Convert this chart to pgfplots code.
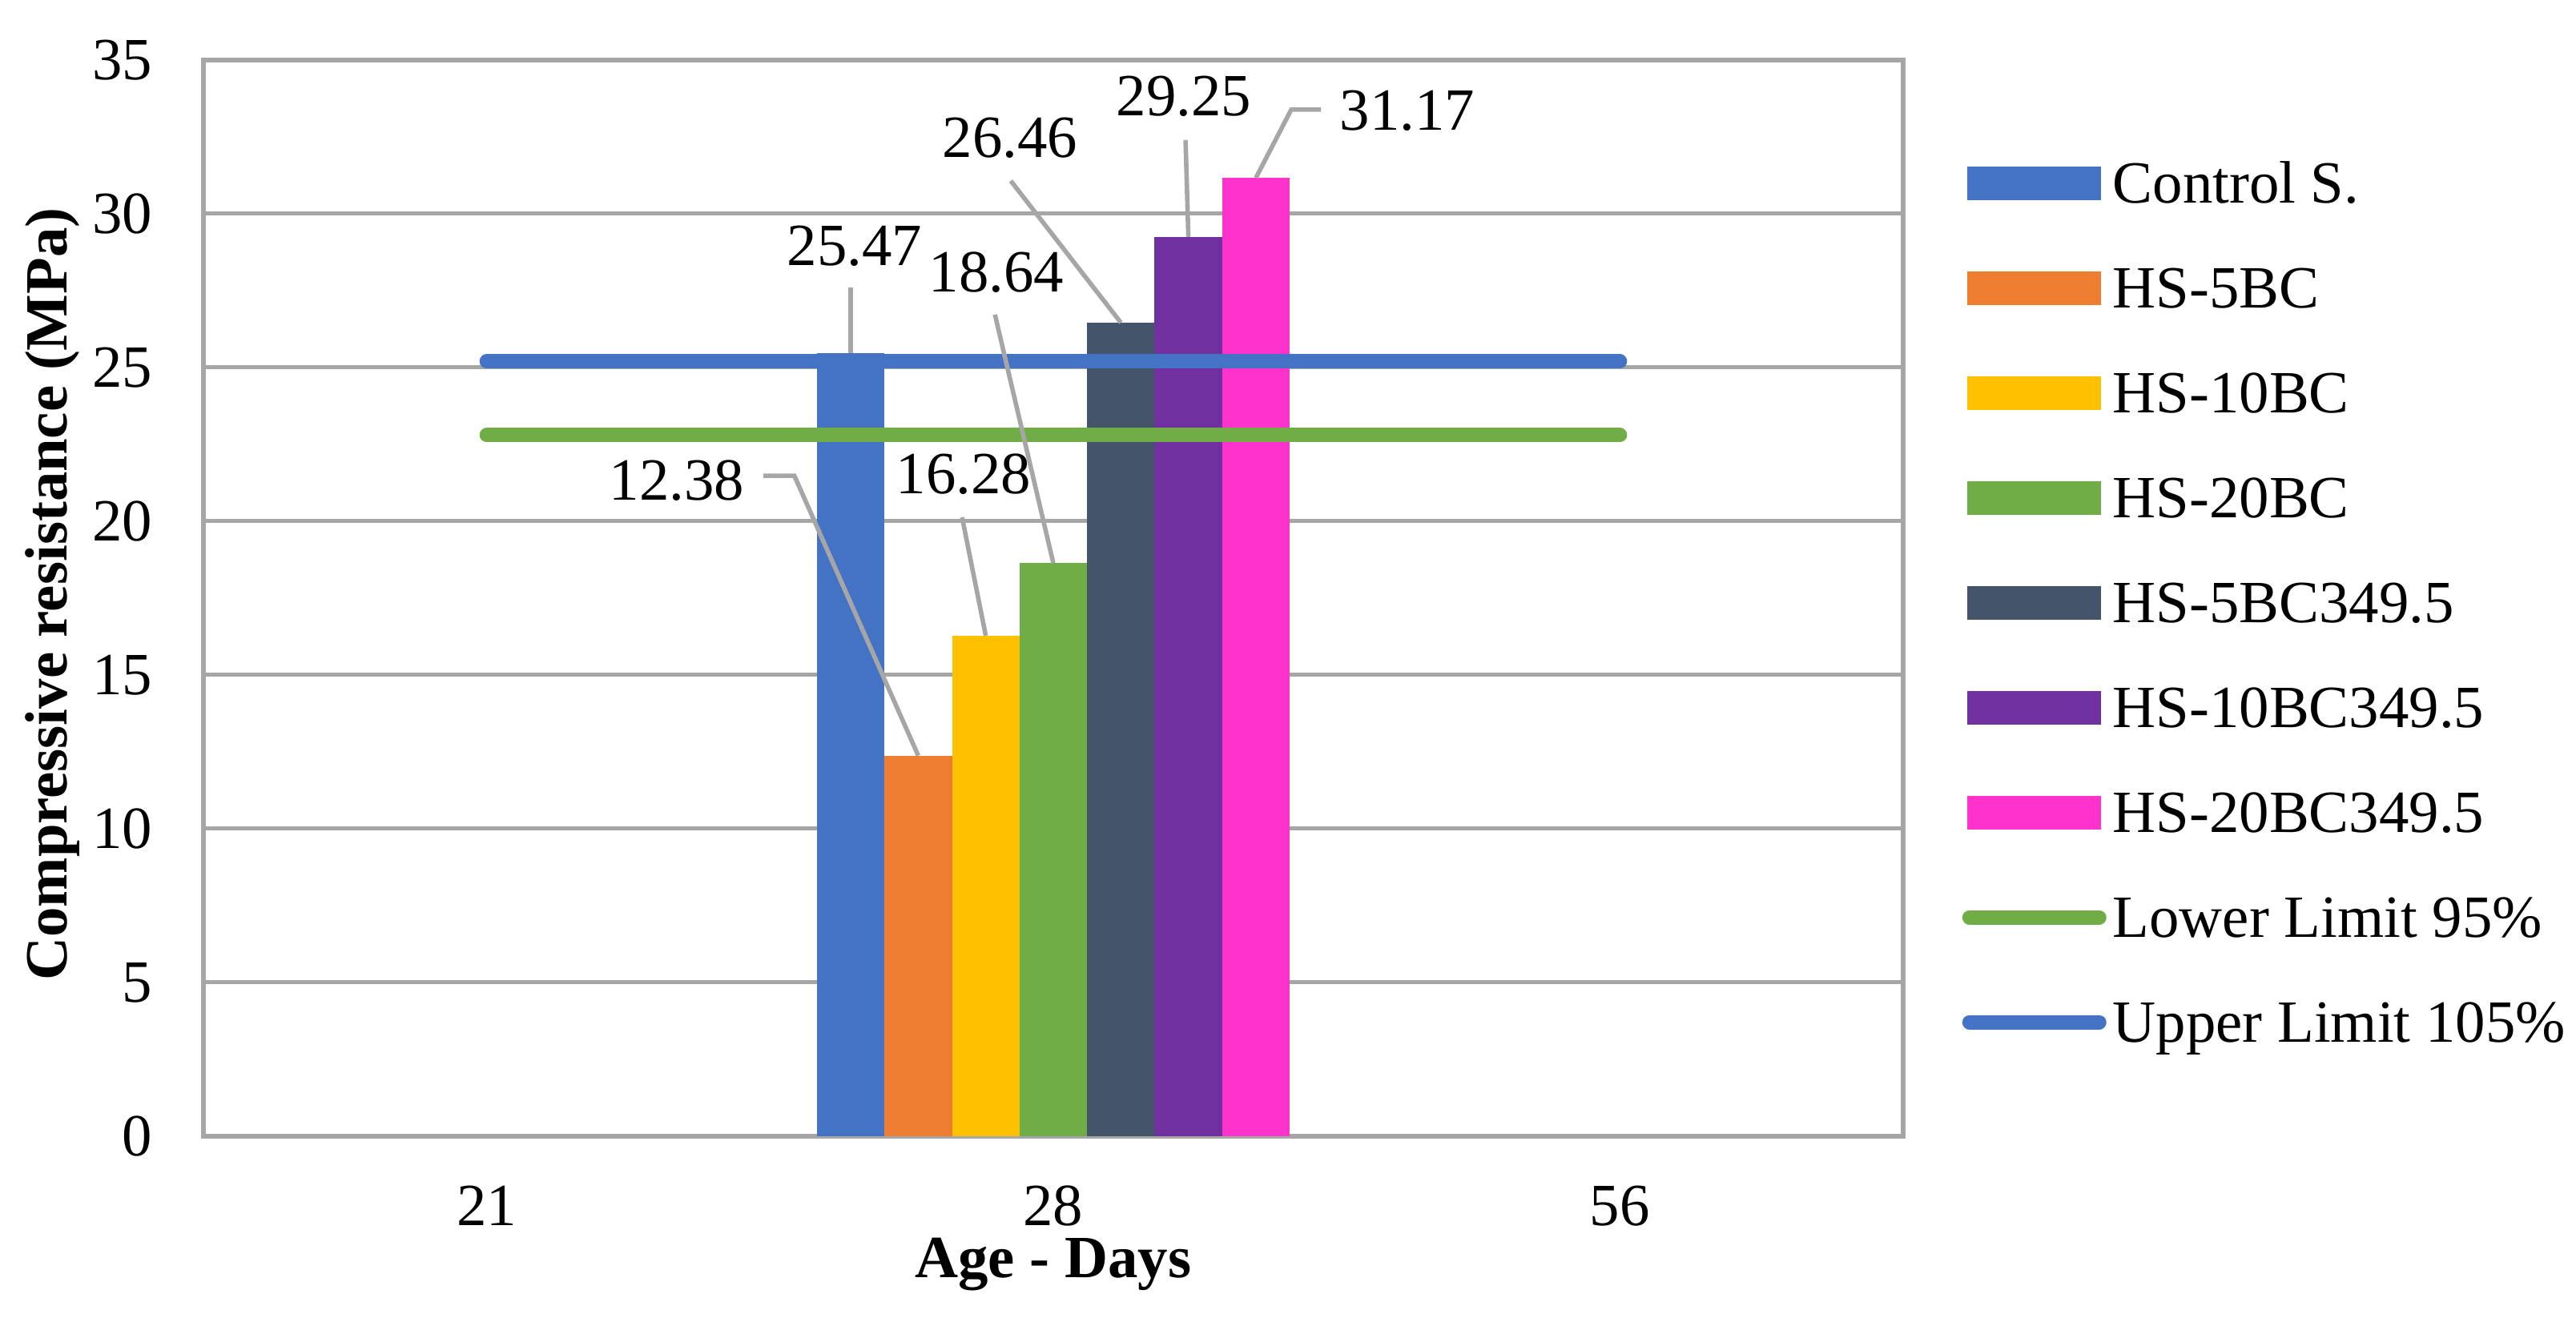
\documentclass[border=0pt]{standalone}
\usepackage{fontspec}
\setmainfont{Liberation Serif}
\usepackage{pgfplots}
\pgfplotsset{compat=1.18}

\definecolor{gridgray}{HTML}{A6A6A6}
\definecolor{cCtrl}{HTML}{4472C4}
\definecolor{cFive}{HTML}{ED7D31}
\definecolor{cTen}{HTML}{FFC000}
\definecolor{cTwenty}{HTML}{70AD47}
\definecolor{cFiveB}{HTML}{44546A}
\definecolor{cTenB}{HTML}{7030A0}
\definecolor{cTwentyB}{HTML}{FF33CC}

\newcommand\fnt{\fontsize{18.7}{22}\selectfont}

\pgfplotsset{
  barleg/.style={legend image code/.code={\fill[#1] (0pt,-5.25pt) rectangle (41.75pt,5.25pt);}},
  lineleg/.style={legend image code/.code={\draw[#1,line width=4.5pt,line cap=round] (0.75pt,0pt) -- (41.25pt,0pt);}},
  mybar/.style={ybar, bar width=0.1192, bar shift=#1, draw=none},
}
\tikzset{leader/.style={draw=gridgray, line width=1.4pt}}

\begin{document}
\fnt
\begin{tikzpicture}
\path[use as bounding box] (-63.5pt,-56.75pt) rectangle (740.5pt,354.75pt);
\begin{axis}[
  scale only axis,
  width=530.5pt, height=336pt,
  xmin=-0.5, xmax=2.5, ymin=0, ymax=35,
  xtick={0,1,2}, xticklabels={21,28,56},
  ytick={0,5,...,35},
  ymajorgrids,
  major grid style={draw=gridgray, line width=1.25pt},
  axis line style={draw=gridgray, line width=1.5pt},
  major tick length=0pt,
  tick label style={font=\fnt, inner sep=0pt},
  yticklabel shift=15.75pt,
  xticklabel shift=15.25pt,
  /pgf/number format/assume math mode=true,
  xlabel={Age - Days},
  ylabel={Compressive resistance (MPa)},
  xlabel style={font=\fnt\bfseries, at={(axis description cs:0.5,-0.1317)}, anchor=base, inner sep=0pt},
  ylabel style={font=\fnt\bfseries, at={(axis description cs:-0.0886,0.5037)}, anchor=center, inner sep=0pt},
  legend style={at={(1.0344,0.9124)}, anchor=north west, draw=none, fill=none,
    inner sep=0pt, row sep=15.17pt, column sep=2pt,
    nodes={inner sep=0pt, text height=0.8em, text depth=0.14em, font=\fnt}},
  legend cell align=left,
  clip=false,
]
% bars at age 28 (category index 1)
\addplot[mybar=-0.3576, fill=cCtrl, barleg=cCtrl] coordinates {(1,25.47)};
\addlegendentry{Control S.}
\addplot[mybar=-0.2384, fill=cFive, barleg=cFive] coordinates {(1,12.38)};
\addlegendentry{HS-5BC}
\addplot[mybar=-0.1192, fill=cTen, barleg=cTen] coordinates {(1,16.28)};
\addlegendentry{HS-10BC}
\addplot[mybar=0, fill=cTwenty, barleg=cTwenty] coordinates {(1,18.64)};
\addlegendentry{HS-20BC}
\addplot[mybar=0.1192, fill=cFiveB, barleg=cFiveB] coordinates {(1,26.46)};
\addlegendentry{HS-5BC349.5}
\addplot[mybar=0.2384, fill=cTenB, barleg=cTenB] coordinates {(1,29.25)};
\addlegendentry{HS-10BC349.5}
\addplot[mybar=0.3576, fill=cTwentyB, barleg=cTwentyB] coordinates {(1,31.17)};
\addlegendentry{HS-20BC349.5}

% limit lines
\addplot[draw=cTwenty, line width=4.5pt, line cap=round, mark=none, lineleg=cTwenty] coordinates {(0,22.8) (2,22.8)};
\addlegendentry{Lower Limit 95\%}
\addplot[draw=cCtrl, line width=4.5pt, line cap=round, mark=none, lineleg=cCtrl] coordinates {(0,25.2) (2,25.2)};
\addlegendentry{Upper Limit 105\%}

% data labels with leader lines
\draw[leader] (0.6424,27.6) -- (0.6424,25.47);
\draw[leader] (0.488,21.48) -- (0.543,21.48) -- (0.7616,12.38);
\draw[leader] (0.839,20.13) -- (0.8808,16.28);
\draw[leader] (0.897,26.72) -- (1.0,18.64);
\draw[leader] (0.925,31.07) -- (1.1192,26.46);
\draw[leader] (1.2334,32.40) -- (1.2384,29.25);
\draw[leader] (1.4723,33.39) -- (1.42,33.39) -- (1.3576,31.17);

\node[font=\fnt, inner sep=0pt] at (0.6495,28.96) {25.47};
\node[font=\fnt, inner sep=0pt] at (0.3356,21.33) {12.38};
\node[font=\fnt, inner sep=0pt] at (0.8417,21.54) {16.28};
\node[font=\fnt, inner sep=0pt] at (0.8997,28.10) {18.64};
\node[font=\fnt, inner sep=0pt] at (0.9237,32.47) {26.46};
\node[font=\fnt, inner sep=0pt] at (1.2305,33.83) {29.25};
\node[font=\fnt, inner sep=0pt] at (1.625,33.36) {31.17};
\end{axis}
\end{tikzpicture}
\end{document}
